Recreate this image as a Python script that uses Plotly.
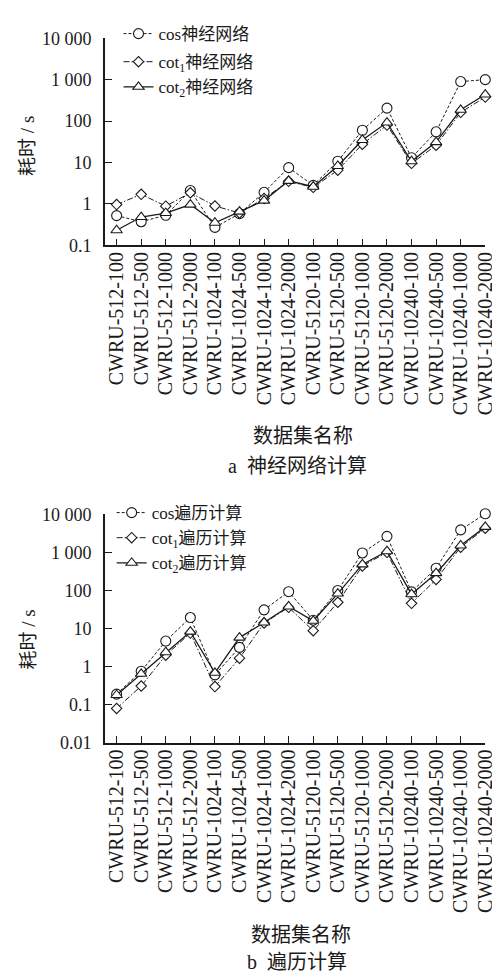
import plotly.graph_objects as go
from plotly.subplots import make_subplots

categories = ["CWRU-512-100", "CWRU-512-500", "CWRU-512-1000", "CWRU-512-2000",
              "CWRU-1024-100", "CWRU-1024-500", "CWRU-1024-1000", "CWRU-1024-2000",
              "CWRU-5120-100", "CWRU-5120-500", "CWRU-5120-1000", "CWRU-5120-2000",
              "CWRU-10240-100", "CWRU-10240-500", "CWRU-10240-1000", "CWRU-10240-2000"]

nn_cos = [0.52, 0.37, 0.53, 2.1, 0.27, 0.58, 1.9, 7.5, 2.8, 10.7, 60, 205, 13, 55, 900, 1000]
nn_cot1 = [0.96, 1.7, 0.88, 1.85, 0.89, 0.6, 1.35, 3.5, 2.5, 6.5, 27.5, 80, 9.5, 26, 162, 380]
nn_cot2 = [0.23, 0.48, 0.6, 0.96, 0.35, 0.65, 1.2, 3.6, 2.6, 8.2, 35, 92, 10.7, 31, 187, 437]

tr_cos = [0.19, 0.76, 4.7, 19.5, 0.61, 3.2, 31, 93, 16.6, 100, 966, 2640, 92, 385, 3900, 10350]
tr_cot1 = [0.08, 0.31, 2.0, 7.6, 0.30, 1.67, 14, 36, 8.8, 49, 440, 1000, 46, 195, 1370, 4300]
tr_cot2 = [0.18, 0.65, 2.4, 8.3, 0.69, 5.8, 14.5, 38, 16, 83, 484, 1070, 80, 285, 1520, 4680]

y_tickvals_top = [0.1, 1, 10, 100, 1000, 10000]
y_ticktext_top = ["0.1", "1", "10", "100", "1 000", "10 000"]
y_tickvals_bot = [0.01, 0.1, 1, 10, 100, 1000, 10000]
y_ticktext_bot = ["0.01", "0.1", "1", "10", "100", "1 000", "10 000"]

FONT = "Liberation Serif, Noto Sans CJK SC, serif"
INK = "#1a1a1a"
H = 977.0
W = 500.0

fig = make_subplots(rows=2, cols=1)

styles = [
    dict(symbol="circle", size=10, dash="3px,2px", width=1.0),
    dict(symbol="diamond", size=8, dash="6px,2px,1.5px,2px", width=1.0),
    dict(symbol="triangle-up", size=10, dash="solid", width=1.3),
]

top_series = [
    ("cos神经网络", nn_cos, "g1"),
    ("cot<sub>1</sub>神经网络", nn_cot1, "g2"),
    ("cot<sub>2</sub>神经网络", nn_cot2, "g2"),
]
bot_series = [
    ("cos遍历计算", tr_cos),
    ("cot<sub>1</sub>遍历计算", tr_cot1),
    ("cot<sub>2</sub>遍历计算", tr_cot2),
]

for (name, vals, grp), st in zip(top_series, styles):
    fig.add_trace(go.Scatter(
        x=categories, y=vals, name=name, mode="lines+markers",
        legendgroup=grp, legend="legend", cliponaxis=False,
        line=dict(color=INK, width=st["width"], dash=st["dash"]),
        marker=dict(symbol=st["symbol"], size=st["size"], color="white",
                    line=dict(color=INK, width=1.1)),
    ), row=1, col=1)

for (name, vals), st in zip(bot_series, styles):
    fig.add_trace(go.Scatter(
        x=categories, y=vals, name=name, mode="lines+markers",
        legend="legend2", cliponaxis=False,
        line=dict(color=INK, width=st["width"], dash=st["dash"]),
        marker=dict(symbol=st["symbol"], size=st["size"], color="white",
                    line=dict(color=INK, width=1.1)),
    ), row=2, col=1)

xdom = [99 / W, 488 / W]
common_x = dict(
    type="category", range=[-0.48, 15.0], domain=xdom,
    tickmode="linear", tick0=0, dtick=1,
    showline=True, linecolor=INK, linewidth=1.5,
    ticks="inside", ticklen=7, tickcolor=INK, tickwidth=1.2,
    tickangle=-90, ticklabelstandoff=-3,
    tickfont=dict(family=FONT, size=20, color=INK),
    showgrid=False, zeroline=False,
)
common_y = dict(
    type="log", showline=True, linecolor=INK, linewidth=1.5,
    ticks="inside", ticklen=7, tickcolor=INK, tickwidth=1.2,
    tickfont=dict(family=FONT, size=18, color=INK), ticklabelstandoff=8,
    showgrid=False, zeroline=False,
)

fig.update_xaxes(**common_x, row=1, col=1)
fig.update_xaxes(**common_x, row=2, col=1)
fig.update_yaxes(**common_y, range=[-1, 4], domain=[1 - 232 / H, 1 - 20.7 / H],
                 tickvals=y_tickvals_top, ticktext=y_ticktext_top, row=1, col=1)
fig.update_yaxes(**common_y, range=[-2, 4.02], domain=[1 - 740 / H, 1 - 505.9 / H],
                 tickvals=y_tickvals_bot, ticktext=y_ticktext_bot, row=2, col=1)

annotations = [
    dict(text="耗时 / s", x=20 / W, y=1 - 131 / H, textangle=-90, size=19),
    dict(text="耗时 / s", x=20 / W, y=1 - 635 / H, textangle=-90, size=19),
    dict(text="数据集名称", x=302 / W, y=1 - 427 / H, size=20),
    dict(text="a  神经网络计算", x=296 / W, y=1 - 457 / H, size=20),
    dict(text="数据集名称", x=300 / W, y=1 - 936 / H, size=20),
    dict(text="b  遍历计算", x=296 / W, y=1 - 964 / H, size=20),
]
for a in annotations:
    sz = a.pop("size")
    fig.add_annotation(xref="paper", yref="paper", showarrow=False,
                       xanchor="center", yanchor="middle",
                       font=dict(family=FONT, size=sz, color=INK), **a)

fig.update_layout(
    width=500, height=977, autosize=False,
    margin=dict(l=0, r=0, t=0, b=0),
    paper_bgcolor="white", plot_bgcolor="white",
    font=dict(family=FONT, color=INK),
    showlegend=True,
    legend=dict(x=113 / W, y=1 + 2 / H, xanchor="left", yanchor="top",
                bgcolor="rgba(0,0,0,0)", traceorder="grouped", tracegroupgap=3,
                font=dict(family=FONT, size=17, color=INK), itemwidth=30),
    legend2=dict(x=106 / W, y=1 - 487 / H, xanchor="left", yanchor="top",
                 bgcolor="rgba(0,0,0,0)",
                 font=dict(family=FONT, size=17, color=INK), itemwidth=30),
)

fig.write_html("out.html")
